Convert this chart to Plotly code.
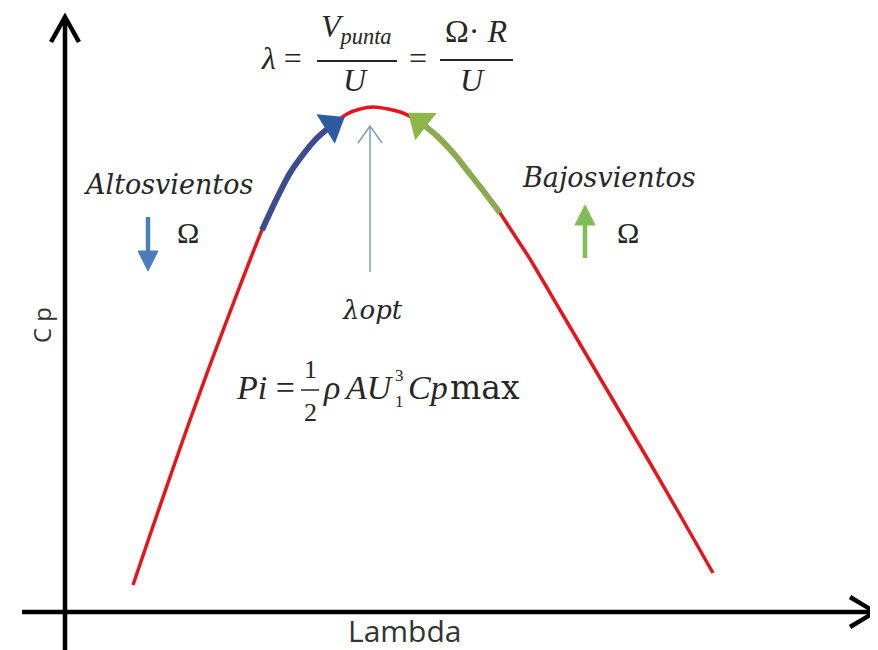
import plotly.graph_objects as go

# ---- data (Lambda vs Cp curve) ----
lambda_vals = [1.36, 1.70, 2.10, 2.50, 2.90, 3.30, 3.70, 3.94, 4.22, 4.50, 4.80, 5.04,
               5.34, 5.64, 5.90, 6.16, 6.46, 6.76, 7.10, 7.44, 7.80, 8.10, 8.40, 8.70,
               9.00, 9.30, 9.90, 10.50, 11.10, 11.70, 12.30, 12.96]
cp_vals = [0.027, 0.077, 0.135, 0.192, 0.247, 0.300, 0.352, 0.382, 0.412, 0.439, 0.460, 0.474,
           0.487, 0.498, 0.503, 0.505, 0.503, 0.499, 0.490, 0.476, 0.457, 0.438, 0.419, 0.399,
           0.376, 0.353, 0.302, 0.251, 0.200, 0.149, 0.097, 0.039]
# indices of highlighted stretches
blue_start, blue_end = 7, 12      # "Altosvientos" approach to optimum
green_start, green_end = 18, 23   # "Bajosvientos" approach to optimum

x_title = "Lambda"
y_title = "C p"

OFF = 8                   # page margin of the browser body
W, H = 870, 642           # figure size (page is 878x650)
OX, OY = 65, 612          # page-pixel position of axes origin
SX, SY = 50.0, 1000.0     # pixels per unit

def dx(p):  # page pixel -> data x
    return (p - OX) / SX

def dy(p):  # page pixel -> data y
    return (OY - p) / SY

def PX(p):  # page pixel -> paper x
    return (p - OFF) / W

def PY(p):  # page pixel -> paper y
    return 1 - (p - OFF) / H

def ppath(points, close=False):
    s = " ".join(("M" if i == 0 else "L") + f" {PX(a)} {PY(b)}" for i, (a, b) in enumerate(points))
    return s + (" Z" if close else "")

fig = go.Figure()

# main red curve
fig.add_trace(go.Scatter(x=lambda_vals, y=cp_vals, mode="lines",
                         line=dict(color="#E3161C", width=3.5, shape="spline", smoothing=0.6),
                         hoverinfo="skip", showlegend=False))
# blue highlighted part
fig.add_trace(go.Scatter(x=lambda_vals[blue_start:blue_end + 1], y=cp_vals[blue_start:blue_end + 1],
                         mode="lines", line=dict(color="#3D4C8C", width=6, shape="spline", smoothing=0.6),
                         hoverinfo="skip", showlegend=False))
fig.add_trace(go.Scatter(x=[lambda_vals[blue_end]], y=[cp_vals[blue_end]], mode="markers",
                         marker=dict(symbol="triangle-up", size=30, angle=58, color="#2E5B9F",
                                     line=dict(width=0)),
                         hoverinfo="skip", showlegend=False))
# green highlighted part
fig.add_trace(go.Scatter(x=lambda_vals[green_start:green_end + 1], y=cp_vals[green_start:green_end + 1],
                         mode="lines", line=dict(color="#8CAA50", width=6, shape="spline", smoothing=0.6),
                         hoverinfo="skip", showlegend=False))
fig.add_trace(go.Scatter(x=[lambda_vals[green_start]], y=[cp_vals[green_start]], mode="markers",
                         marker=dict(symbol="triangle-up", size=30, angle=-52, color="#8DB849",
                                     line=dict(width=0)),
                         hoverinfo="skip", showlegend=False))

shapes = []
annotations = []

# axes lines (at Cp=0 and Lambda=0)
shapes.append(dict(type="line", xref="x", yref="y", x0=dx(22), x1=dx(874), y0=0, y1=0,
                   line=dict(color="black", width=4.5)))
shapes.append(dict(type="line", xref="x", yref="y", x0=0, x1=0, y0=dy(660), y1=dy(17),
                   line=dict(color="black", width=4.5)))
# axis arrow chevrons
shapes.append(dict(type="path", xref="paper", yref="paper",
                   path=ppath([(51, 42), (65, 17), (79, 42)]), line=dict(color="black", width=4.5)))
shapes.append(dict(type="path", xref="paper", yref="paper",
                   path=ppath([(850, 597), (875, 612), (850, 627)]), line=dict(color="black", width=4.5)))

# lambda-opt arrow
shapes.append(dict(type="line", xref="paper", yref="paper", x0=PX(370), x1=PX(370), y0=PY(272), y1=PY(126),
                   line=dict(color="#7D9BC4", width=1.5)))
shapes.append(dict(type="path", xref="paper", yref="paper",
                   path=ppath([(358, 143), (370, 126), (382, 143)]), line=dict(color="#7D9BC4", width=1.5)))

# omega direction arrows (blue: down, green: up)
shapes.append(dict(type="line", xref="paper", yref="paper", x0=PX(148), x1=PX(148), y0=PY(217), y1=PY(254),
                   line=dict(color="#4A7EBB", width=4.5)))
shapes.append(dict(type="path", xref="paper", yref="paper", path=ppath([(138, 251), (158, 251), (148, 271)], True),
                   fillcolor="#4A7EBB", line=dict(color="#4A7EBB", width=1)))
shapes.append(dict(type="line", xref="paper", yref="paper", x0=PX(585), x1=PX(585), y0=PY(258), y1=PY(222),
                   line=dict(color="#80BD57", width=4.5)))
shapes.append(dict(type="path", xref="paper", yref="paper", path=ppath([(575, 225), (595, 225), (585, 205)], True),
                   fillcolor="#80BD57", line=dict(color="#80BD57", width=1)))

serif = "Liberation Serif"
tcol = "#262626"

def txt(x, y, s, size, family=serif, xanchor="center", color=tcol, textangle=0):
    annotations.append(dict(xref="paper", yref="paper", x=PX(x), y=PY(y), text=s, showarrow=False,
                            xanchor=xanchor, yanchor="middle", textangle=textangle, borderpad=0,
                            font=dict(family=family, size=size, color=color)))

# labels
txt(168, 184, "<i>Altosvientos</i>", 27, family="DejaVu Serif")
txt(609, 178, "<i>Bajosvientos</i>", 27, family="DejaVu Serif")
txt(188, 232, "Ω", 30)
txt(628, 232, "Ω", 30)
txt(372, 310, "<i>λopt</i>", 26, family="DejaVu Serif")

# top formula
txt(281, 58, "<i>λ</i> =", 32)
txt(356, 29, "<i>V</i><sub><i>punta</i></sub>", 32)
shapes.append(dict(type="line", xref="paper", yref="paper", x0=PX(317), x1=PX(397), y0=PY(61), y1=PY(61),
                   line=dict(color=tcol, width=2)))
txt(355, 80, "<i>U</i>", 32)
txt(418, 58, "=", 32)
txt(476, 31, "Ω· <i>R</i>", 32)
shapes.append(dict(type="line", xref="paper", yref="paper", x0=PX(440), x1=PX(513), y0=PY(60), y1=PY(60),
                   line=dict(color=tcol, width=2)))
txt(472, 80, "<i>U</i>", 32)

# power formula
txt(296, 388, "<i>Pi</i> =", 34, xanchor="right")
txt(310, 370, "1", 26)
shapes.append(dict(type="line", xref="paper", yref="paper", x0=PX(301), x1=PX(319), y0=PY(390), y1=PY(390),
                   line=dict(color=tcol, width=1.5)))
txt(310, 412, "2", 26)
txt(322, 388, "<i>ρ</i>", 34, xanchor="left")
txt(343, 388, "<i>AU</i>", 34, xanchor="left")
txt(394, 376, "3", 17, xanchor="left")
txt(394, 401, "1", 17, xanchor="left")
txt(407, 388, "<i>Cp</i>", 34, xanchor="left")
txt(449, 388, "max", 33, family="DejaVu Serif", xanchor="left")

# axis titles
txt(404, 630, x_title, 30, family="Open Sans", color="#333333")
txt(41, 325, y_title, 24, family="Open Sans", color="#333333", textangle=-90)

fig.update_layout(
    width=W, height=H, margin=dict(l=0, r=0, t=0, b=0),
    paper_bgcolor="white", plot_bgcolor="white",
    xaxis=dict(range=[dx(OFF), dx(OFF + W)], visible=False, fixedrange=True),
    yaxis=dict(range=[dy(OFF + H), dy(OFF)], visible=False, fixedrange=True),
    shapes=shapes, annotations=annotations, showlegend=False,
)

fig.write_html("out.html")
